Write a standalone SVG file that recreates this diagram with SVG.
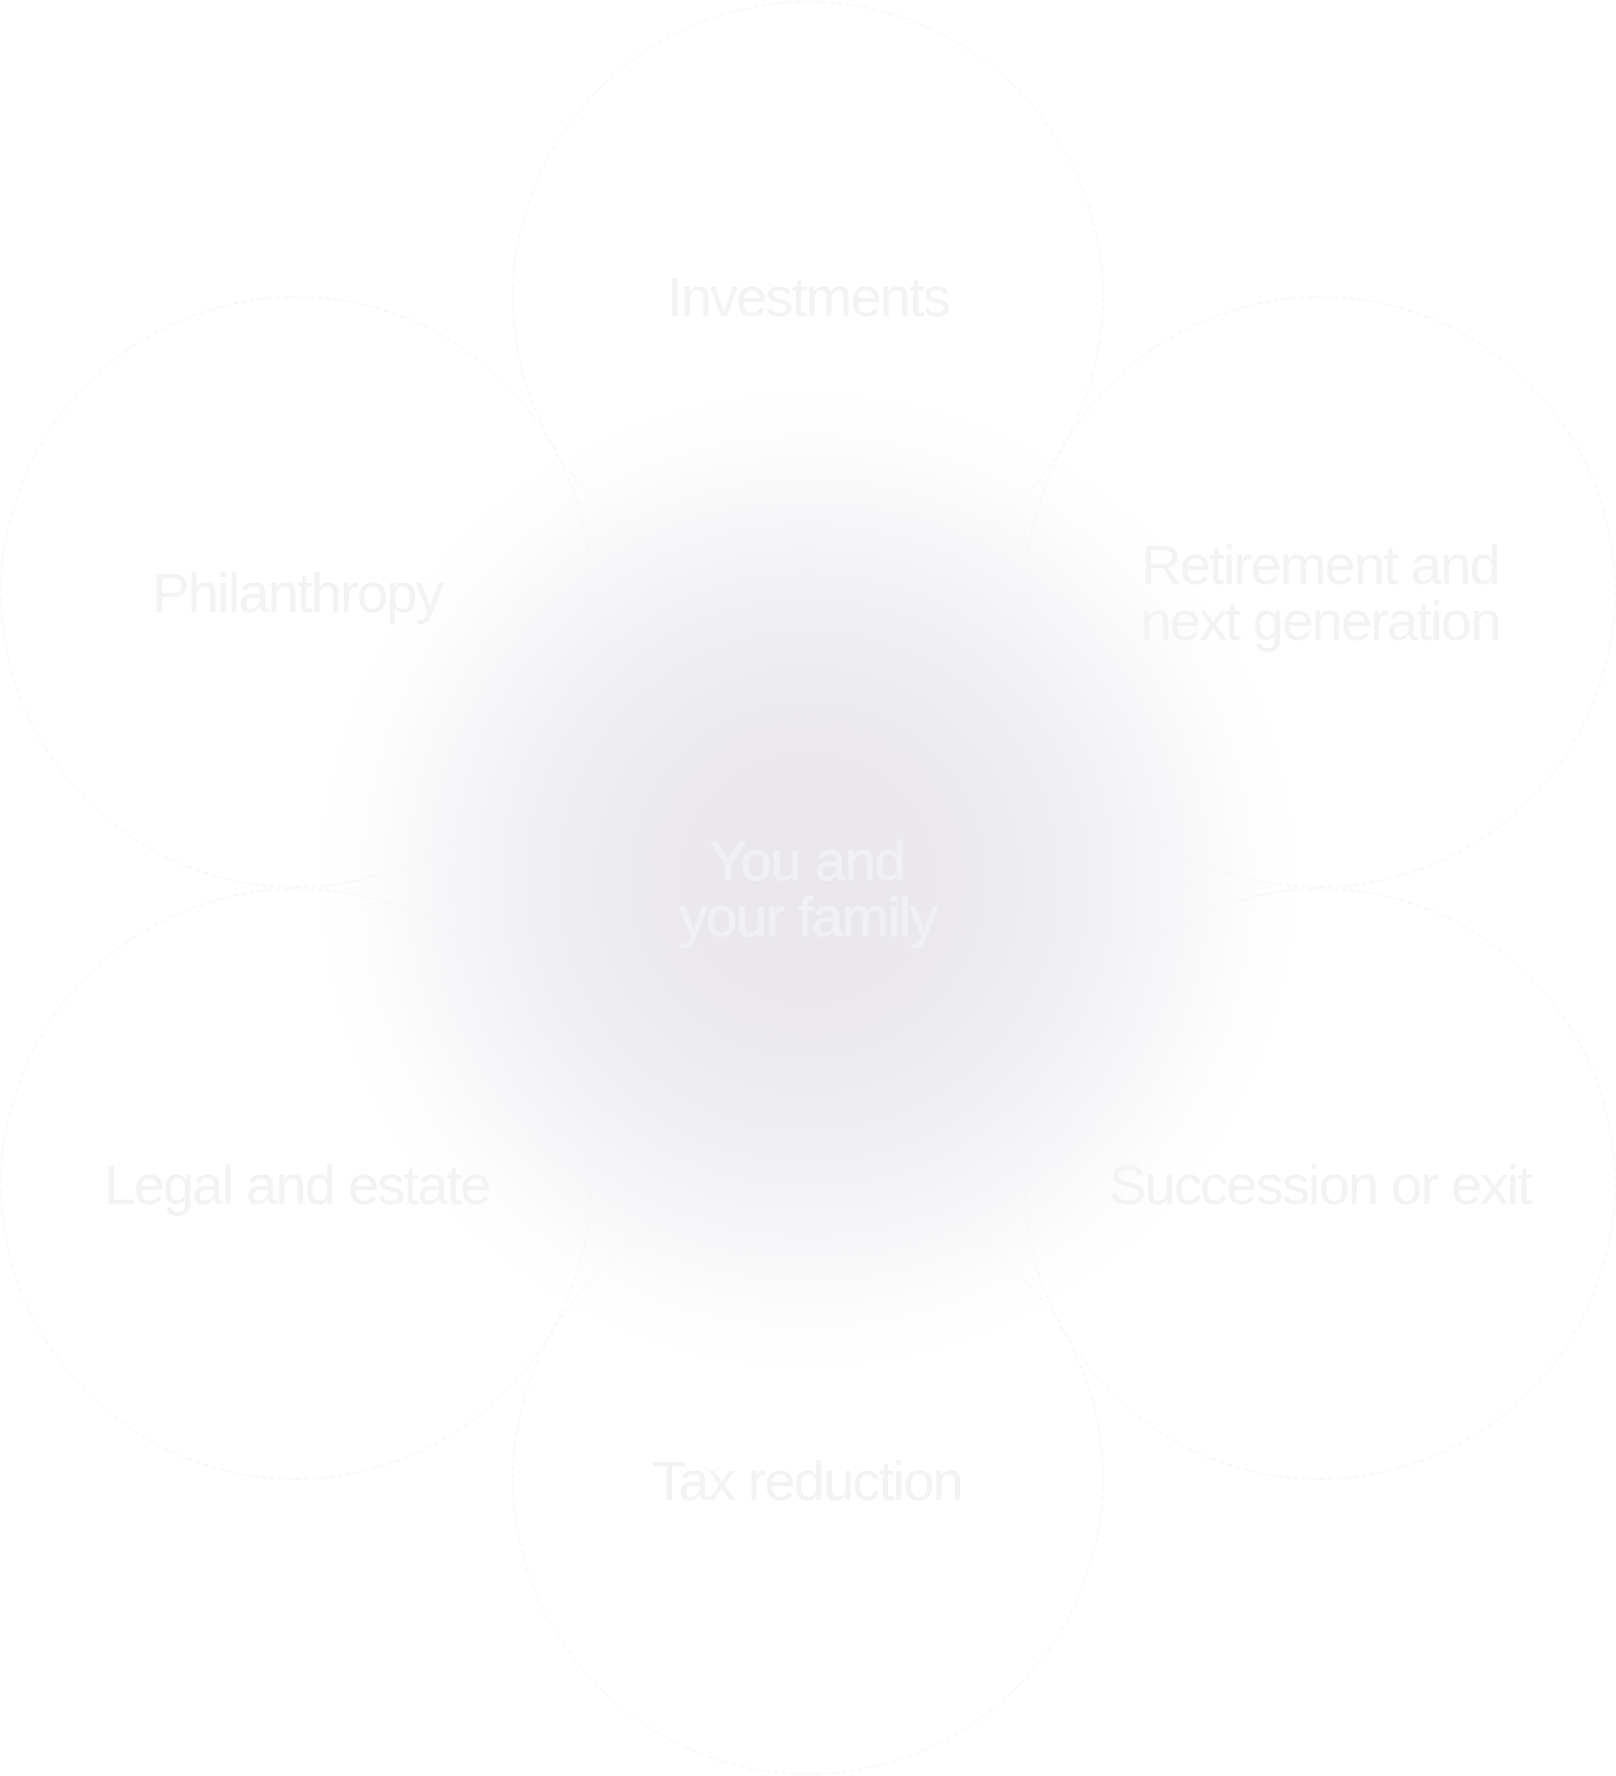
<svg xmlns="http://www.w3.org/2000/svg" width="1616" height="1776" viewBox="0 0 1616 1776">
  <defs>
    <radialGradient id="glow" cx="808" cy="880" r="495" gradientUnits="userSpaceOnUse">
      <stop offset="0" stop-color="#e9e7ec"/>
      <stop offset="0.3" stop-color="#ebe9ee"/>
      <stop offset="0.55" stop-color="#f0eff3"/>
      <stop offset="0.75" stop-color="#f7f7f9"/>
      <stop offset="0.9" stop-color="#fdfdfe"/>
      <stop offset="1" stop-color="#ffffff"/>
    </radialGradient>
    <style>
      .ring { fill: none; stroke: #f4f4f6; stroke-width: 1; stroke-dasharray: 5 3.5; }
      .label { font-family: "Liberation Sans", Arial, sans-serif; font-size: 56px; fill: #f3f3f5; letter-spacing: -1.8px; text-anchor: middle; }
      .core { font-family: "Liberation Sans", Arial, sans-serif; font-size: 56px; fill: #f1f0f3; stroke: #f1f0f3; stroke-width: 0.8; letter-spacing: -1.2px; text-anchor: middle; }
    </style>
  </defs>
  <rect width="1616" height="1776" fill="#ffffff"/>
  <circle cx="808" cy="880" r="495" fill="url(#glow)"/>
  <g id="connectors"/>
  <g id="node-investments">
    <circle class="ring" cx="808" cy="297" r="295"/>
    <text class="label" x="808" y="316">Investments</text>
  </g>
  <g id="node-philanthropy">
    <circle class="ring" cx="296" cy="592" r="295"/>
    <text class="label" x="297" y="612">Philanthropy</text>
  </g>
  <g id="node-retirement">
    <circle class="ring" cx="1320" cy="592" r="295"/>
    <text class="label" x="1320" y="584">Retirement and</text>
    <text class="label" x="1320" y="640">next generation</text>
  </g>
  <g id="node-legal">
    <circle class="ring" cx="296" cy="1184" r="295"/>
    <text class="label" x="297" y="1204">Legal and estate</text>
  </g>
  <g id="node-succession">
    <circle class="ring" cx="1320" cy="1184" r="295"/>
    <text class="label" x="1320" y="1204">Succession or exit</text>
  </g>
  <g id="node-tax">
    <circle class="ring" cx="808" cy="1479" r="295"/>
    <text class="label" x="807" y="1500">Tax reduction</text>
  </g>
  <g id="node-center">
    <text class="core" x="807" y="880">You and</text>
    <text class="core" x="808" y="936">your family</text>
  </g>
</svg>
